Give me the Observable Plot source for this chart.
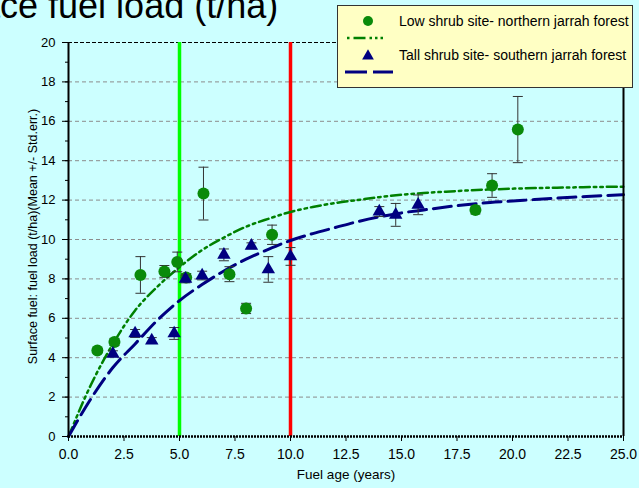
<!DOCTYPE html>
<html><head><meta charset="utf-8">
<script src="https://cdn.jsdelivr.net/npm/d3@7"></script>
<script src="https://cdn.jsdelivr.net/npm/@observablehq/plot@0.6"></script>
<style>
html,body{margin:0;padding:0;background:#ccffff;width:639px;height:488px;overflow:hidden;font-family:"Liberation Sans",Arial,sans-serif;}
#wrap{position:relative;width:639px;height:488px;}
#title{position:absolute;left:-86px;top:-12px;font-size:36px;line-height:36px;white-space:nowrap;color:#000;}
#chart{position:absolute;left:0;top:0;}
#legend{position:absolute;left:337px;top:5px;}
</style></head><body><div id="wrap"><div id="chart"></div><div id="title">Surface fuel load (t/ha)</div><div id="legend"></div></div>
<script>
// Low shrub site - northern jarrah forest
const lowAge  = [1.3, 2.07, 3.24, 4.32, 4.9, 5.3, 6.08, 7.25, 8.0, 9.17, 18.33, 19.08, 20.24];
const lowLoad = [4.37, 4.8, 8.2, 8.38, 8.86, 8.07, 12.33, 8.24, 6.5, 10.24, 11.5, 12.74, 15.58];
const lowErr  = [0.12, 0.18, 0.93, 0.3, 0.5, 0.2, 1.34, 0.38, 0.26, 0.49, 0.2, 0.6, 1.68];
// Tall shrub site - southern jarrah forest
const tallAge  = [2.0, 3.0, 3.75, 4.76, 5.27, 6.02, 7.0, 8.24, 9.0, 10.0, 14.0, 14.74, 15.75];
const tallLoad = [4.2, 5.23, 4.87, 5.23, 8.0, 8.17, 9.22, 9.68, 8.48, 9.14, 11.42, 11.25, 11.76];
const tallErr  = [0.15, 0.2, 0.15, 0.3, 0.2, 0.22, 0.3, 0.15, 0.65, 0.45, 0.25, 0.58, 0.5];
// fitted curves
const fitAge  = [0,1,2,3,4,5,6,7,8,9,10,11,12,13,14,15,16,17,18,19,20,21,22,23,24,25];
const lowFit  = [0,2.6,4.7,6.4,7.6,8.6,9.45,10.1,10.65,11.05,11.4,11.65,11.85,12.0,12.15,12.27,12.36,12.43,12.49,12.54,12.58,12.61,12.63,12.65,12.67,12.68];
const tallFit = [0,1.9,3.5,4.7,5.9,6.9,7.7,8.4,9.0,9.5,9.95,10.3,10.6,10.9,11.15,11.35,11.5,11.65,11.78,11.88,11.95,12.03,12.1,12.16,12.22,12.27];
// reference lines
const refAges = [5, 10];
const xTicks = [0, 2.5, 5, 7.5, 10, 12.5, 15, 17.5, 20, 22.5, 25];
const yTicks = [0, 2, 4, 6, 8, 10, 12, 14, 16, 18, 20];
const yMinor = [0,1,2,3,4,5,6,7,8,9,10,11,12,13,14,15,16,17,18,19,20];
const yGrid = [2, 4, 6, 8, 10, 12, 14, 16, 18];
const seriesNames = ["Low shrub site- northern jarrah forest", "Tall shrub site- southern jarrah forest"];

const low = lowAge.map((x, i) => ({x, y: lowLoad[i], e: lowErr[i]}));
const tall = tallAge.map((x, i) => ({x, y: tallLoad[i], e: tallErr[i]}));
const lowCurve = fitAge.map((x, i) => ({x, y: lowFit[i]}));
const tallCurve = fitAge.map((x, i) => ({x, y: tallFit[i]}));

const cap = {draw(ctx, size){ const w = Math.sqrt(size / Math.PI); ctx.moveTo(-w, 0); ctx.lineTo(w, 0); }};
const errMarks = (data) => [
  Plot.ruleX(data, {x: "x", y1: d => d.y - d.e, y2: d => d.y + d.e, stroke: "#333", strokeWidth: 1}),
  Plot.dot(data, {x: "x", y: d => d.y + d.e, symbol: cap, r: 5, stroke: "#333", strokeWidth: 1, fill: "none"}),
  Plot.dot(data, {x: "x", y: d => d.y - d.e, symbol: cap, r: 5, stroke: "#333", strokeWidth: 1, fill: "none"})
];

const chart = Plot.plot({
  width: 639, height: 488,
  marginLeft: 68, marginRight: 16, marginTop: 42, marginBottom: 52,
  style: {background: "transparent", fontFamily: '"Liberation Sans", Arial, sans-serif', fontSize: "13px", color: "#000"},
  x: {domain: [0, 25]},
  y: {domain: [0, 20]},
  marks: [
    Plot.gridY(yGrid, {stroke: "#8c8c8c", strokeOpacity: 1, strokeDasharray: "4,3"}),
    Plot.ruleY([20], {stroke: "#000", strokeDasharray: "4,2"}),
    Plot.ruleX(refAges, {x: d => d, stroke: (d, i) => i === 0 ? "#00ff00" : "#ff0000", strokeWidth: 3.5}),
    Plot.line(lowCurve, {x: "x", y: "y", curve: "monotone-x", stroke: "#008000", strokeWidth: 2.5, strokeDasharray: "10,4,2.5,4,2.5,4"}),
    Plot.line(tallCurve, {x: "x", y: "y", curve: "monotone-x", stroke: "#000080", strokeWidth: 3, strokeDasharray: "18,7"}),
    ...errMarks(low),
    Plot.dot(low, {x: "x", y: "y", r: 6, fill: "#0a8a0a", stroke: "none"}),
    ...errMarks(tall),
    Plot.dot(tall, {x: "x", y: "y", symbol: "triangle", r: 5, fill: "#000080", stroke: "none"}),
    Plot.ruleX([0], {stroke: "#000", strokeWidth: 2}),
    Plot.ruleX([25], {stroke: "#000", strokeWidth: 2}),
    Plot.ruleY([0], {stroke: "#000", strokeWidth: 2.5, strokeDasharray: "2,1"}),
    Plot.axisY({ticks: yMinor, tickSize: 3, tickFormat: () => "", label: null}),
    Plot.axisY({ticks: yTicks, tickSize: 6, tickPadding: 7, label: null, fontSize: 13}),
    Plot.axisX({ticks: xTicks, tickSize: 5, tickPadding: 8, tickFormat: d3.format(".1f"), label: null, fontSize: 14}),
    Plot.text(["Fuel age (years)"], {frameAnchor: "bottom", dy: 42, fontSize: 13.5}),
    Plot.text(["Surface fuel: fuel load (t/ha)(Mean +/- Std.err.)"], {frameAnchor: "left", textAnchor: "middle", dx: -36, dy: -3, rotate: -90, fontSize: 12.5})
  ]
});
document.getElementById("chart").appendChild(chart);

// legend
const lg = d3.select("#legend").append("svg").attr("width", 297).attr("height", 84)
  .style("font-family", '"Liberation Sans", Arial, sans-serif');
lg.append("rect").attr("x", 0.5).attr("y", 0.5).attr("width", 295).attr("height", 82)
  .attr("fill", "#ffffc4").attr("stroke", "#333").attr("stroke-width", 1);
lg.append("circle").attr("cx", 31).attr("cy", 16).attr("r", 5).attr("fill", "#0a8a0a");
lg.append("line").attr("x1", 10).attr("x2", 50).attr("y1", 33).attr("y2", 33)
  .attr("stroke", "#008000").attr("stroke-width", 2.5).attr("stroke-dasharray", "2.5,4,12,4,2.5,3,2.5,3");
lg.append("path").attr("d", d3.symbol(d3.symbolTriangle, 60)()).attr("transform", "translate(31,51)").attr("fill", "#000080");
lg.append("line").attr("x1", 8).attr("x2", 56).attr("y1", 67).attr("y2", 67)
  .attr("stroke", "#000080").attr("stroke-width", 3).attr("stroke-dasharray", "22,6");
lg.selectAll("text.t").data(seriesNames).join("text").attr("class", "t")
  .attr("x", 62).attr("y", (d, i) => i === 0 ? 21 : 55).attr("font-size", 14).attr("fill", "#000").text(d => d);
</script></body></html>
